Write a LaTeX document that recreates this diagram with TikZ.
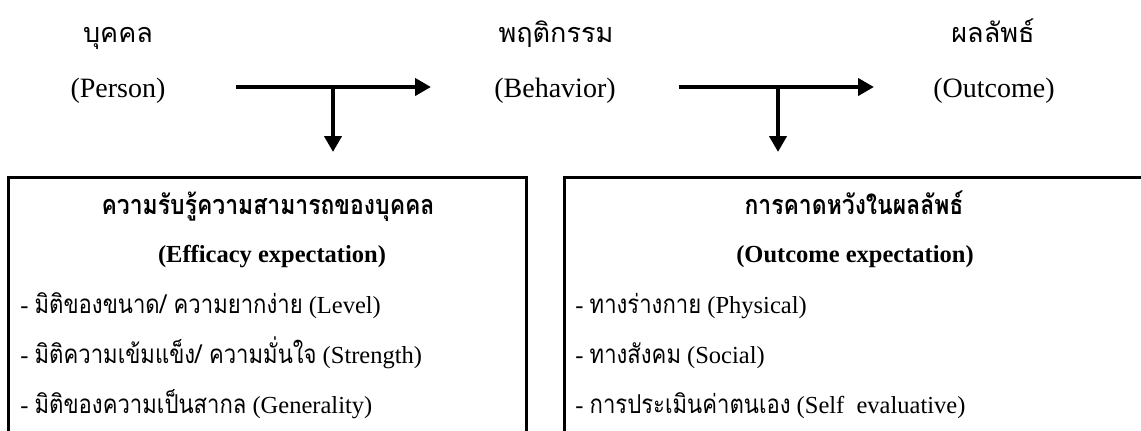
\documentclass[tikz,border=0pt]{standalone}
\usepackage{fontspec}
\setmainfont{Liberation Serif}
\newfontfamily\thaifont[Script=Thai]{Loma}
\newfontfamily\thaibox[Script=Thai,FakeStretch=0.85]{Loma}
\usetikzlibrary{arrows.meta}
\newcommand{\thtop}[1]{{\thaifont\fontsize{13.5pt}{16pt}\selectfont #1}}
\newcommand{\thbx}[1]{{\thaibox\fontsize{13pt}{15pt}\selectfont #1}}
\newcommand{\thttl}[1]{{\thaibox\bfseries\fontsize{13.5pt}{16pt}\selectfont #1}}
\tikzset{
  toplbl/.style={anchor=base, inner sep=0pt, font=\fontsize{14pt}{16pt}\selectfont},
  boxhead/.style={anchor=base, inner sep=0pt, font=\fontsize{12.25pt}{14pt}\selectfont\bfseries},
  item/.style={anchor=base west, inner sep=0pt, font=\fontsize{12.25pt}{14pt}\selectfont},
  flow/.style={line width=2pt, -{Triangle[length=8pt,width=8.5pt]}},
  boxframe/.style={draw, line width=1.5pt, rectangle, inner sep=0pt},
}
\begin{document}
\begin{tikzpicture}[x=0.5pt, y={(0,-0.5pt)}]
\useasboundingbox (0,0) rectangle (1141,430);
\clip (0,0) rectangle (1141,430);
% top labels
\node[toplbl] (pth) at (118,42) {\thtop{บุคคล}};
\node[toplbl] (pen) at (118,97) {(Person)};
\node[toplbl] (bth) at (556,42) {\thtop{พฤติกรรม}};
\node[toplbl] (ben) at (555,97) {(Behavior)};
\node[toplbl] (oth) at (993,42) {\thtop{ผลลัพธ์}};
\node[toplbl] (oen) at (994,97) {(Outcome)};
% boxes
\node[boxframe, minimum width=259pt, minimum height=150pt, anchor=north west] (effbox) at (7,176) {};
\node[boxframe, minimum width=300pt, minimum height=150pt, anchor=north west] (outbox) at (563,176) {};
% arrows
\coordinate (a1s) at (236,87);
\coordinate (a1e) at (431,87);
\coordinate (j1) at (333,87);
\coordinate (d1) at (333,152);
\coordinate (a2s) at (679,87);
\coordinate (a2e) at (874,87);
\coordinate (j2) at (778,87);
\coordinate (d2) at (778,152);
\draw[flow] (a1s) -- (a1e);
\draw[flow] (j1) -- (d1);
\draw[flow] (a2s) -- (a2e);
\draw[flow] (j2) -- (d2);
% left box text
\node[boxhead] (et) at (268,214) {\thttl{ความรับรู้ความสามารถของบุคคล}};
\node[boxhead] (es) at (272,262) {(Efficacy expectation)};
\node[item] (e1) at (20,313) {- \thbx{มิติของขนาด/ ความยากง่าย} (Level)};
\node[item] (e2) at (20,363) {- \thbx{มิติความเข้มแข็ง/ ความมั่นใจ} (Strength)};
\node[item] (e3) at (20,413) {- \thbx{มิติของความเป็นสากล} (Generality)};
% right box text
\node[boxhead] (ot) at (854,214) {\thttl{การคาดหวังในผลลัพธ์}};
\node[boxhead] (os) at (855,262) {(Outcome expectation)};
\node[item] (o1) at (575,313) {- \thbx{ทางร่างกาย} (Physical)};
\node[item] (o2) at (575,363) {- \thbx{ทางสังคม} (Social)};
\node[item] (o3) at (575,413) {- \thbx{การประเมินค่าตนเอง} (Self\ \ evaluative)};
\end{tikzpicture}
\end{document}
